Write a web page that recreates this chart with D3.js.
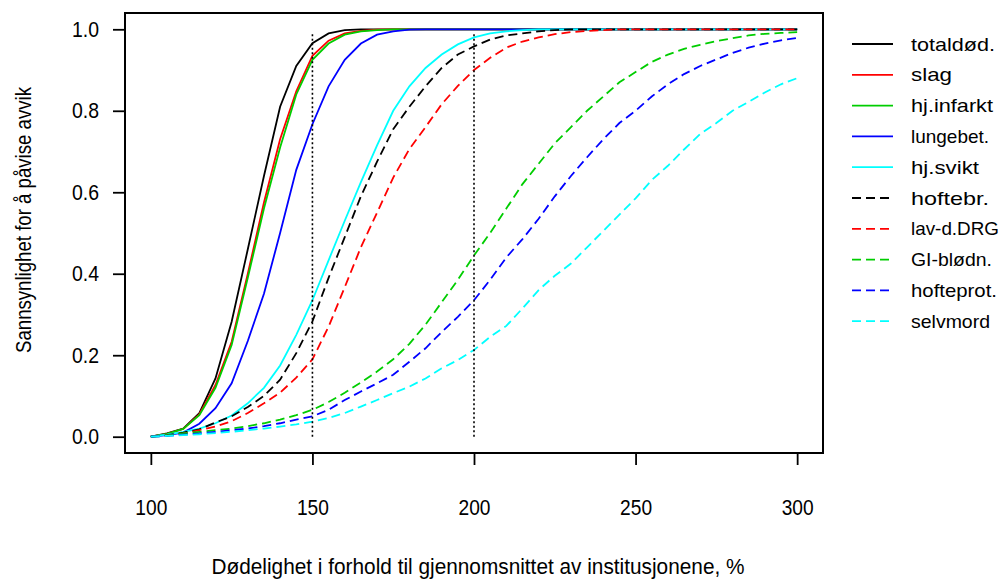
<!DOCTYPE html>
<html>
<head>
<meta charset="utf-8">
<script src="https://cdn.jsdelivr.net/npm/d3@7"></script>
<style>
  body { margin: 0; background: #fff; }
  svg text { font-family: "Liberation Sans", Arial, sans-serif; fill: #000; }
</style>
</head>
<body>
<script>
// relative mortality, % of the institutions' average
const mortality = [100, 105, 110, 115, 120, 125, 130, 135, 140, 145, 150, 155, 160, 165, 170, 175, 180,
  185, 190, 195, 200, 205, 210, 215, 220, 225, 230, 235, 240, 245, 250, 255, 260, 265, 270, 275, 280,
  285, 290, 295, 300];

const totaldod = [0, .008, .02, .058, .143, .282, .46, .64, .81, .91, .966, .99, .998, 1, 1, 1, 1,
  1, 1, 1, 1, 1, 1, 1, 1, 1, 1, 1, 1, 1, 1, 1, 1, 1, 1, 1, 1, 1, 1, 1, 1];
const slag = [0, .007, .019, .055, .127, .233, .40, .575, .73, .848, .935, .972, .99, .996, .999, 1, 1,
  1, 1, 1, 1, 1, 1, 1, 1, 1, 1, 1, 1, 1, 1, 1, 1, 1, 1, 1, 1, 1, 1, 1, 1];
const hjInfarkt = [0, .007, .019, .053, .12, .225, .39, .56, .71, .84, .925, .965, .987, .995, .998, 1, 1,
  1, 1, 1, 1, 1, 1, 1, 1, 1, 1, 1, 1, 1, 1, 1, 1, 1, 1, 1, 1, 1, 1, 1, 1];
const lungebet = [0, .004, .01, .032, .07, .131, .235, .351, .50, .655, .767, .86, .925, .965, .987, .995, .999,
  1, 1, 1, 1, 1, 1, 1, 1, 1, 1, 1, 1, 1, 1, 1, 1, 1, 1, 1, 1, 1, 1, 1, 1];
const hjSvikt = [0, .005, .012, .02, .033, .052, .082, .12, .175, .25, .335, .433, .53, .625, .715, .80, .86,
  .905, .938, .963, .98, .99, .995, .998, 1, 1, 1, 1, 1, 1, 1, 1, 1, 1, 1, 1, 1, 1, 1, 1, 1];
const hoftebr = [0, .004, .01, .018, .035, .05, .073, .10, .14, .205, .283, .39, .49, .59, .675, .755, .81,
  .86, .905, .938, .958, .975, .985, .99, .995, .998, 1, 1, 1, 1, 1, 1, 1, 1, 1, 1, 1, 1, 1, 1, 1];
const lavdDrg = [0, .003, .008, .016, .025, .038, .058, .082, .108, .145, .19, .27, .367, .465, .55, .636, .706,
  .76, .816, .861, .90, .93, .955, .97, .98, .988, .993, .996, .998, 1, 1, 1, 1, 1, 1, 1, 1, 1, 1, 1, 1];
const giBlodn = [0, .003, .008, .012, .016, .02, .026, .033, .042, .053, .066, .085, .108, .133, .16, .19, .228,
  .275, .33, .385, .445, .50, .56, .62, .67, .72, .76, .80, .835, .87, .895, .92, .938, .952, .962, .971, .978,
  .985, .989, .991, .993];
const hofteprot = [0, .002, .005, .008, .012, .016, .02, .026, .033, .042, .05, .066, .09, .111, .131, .152, .184,
  .217, .257, .294, .335, .385, .44, .485, .535, .59, .64, .686, .73, .77, .80, .835, .865, .89, .91, .926, .942,
  .955, .965, .973, .979];
const selvmord = [0, .002, .004, .006, .009, .012, .016, .02, .025, .03, .037, .046, .058, .074, .09, .107, .123,
  .143, .168, .188, .213, .245, .272, .315, .36, .395, .425, .465, .505, .545, .585, .63, .665, .705, .743, .77, .80,
  .822, .845, .865, .88];

const seriesNames = ["totaldød.", "slag", "hj.infarkt", "lungebet.", "hj.svikt",
  "hoftebr.", "lav-d.DRG", "GI-blødn.", "hofteprot.", "selvmord"];
const seriesValues = [totaldod, slag, hjInfarkt, lungebet, hjSvikt,
  hoftebr, lavdDrg, giBlodn, hofteprot, selvmord];

const xTicks = [100, 150, 200, 250, 300];
const yTicks = [0, 0.2, 0.4, 0.6, 0.8, 1.0];
const refLines = [150, 200];

// styles (old R palette)
const colors = ["#000000", "#ff0000", "#00cd00", "#0000ff", "#00ffff"];
const labelWidths = [84, 41, 82, 78, 68, 78, 88, 81, 86, 79];

const width = 1007, height = 579;
const box = {left: 125, right: 823, top: 13, bottom: 453};
const fontSize = "22px";

const svg = d3.select("body").append("svg")
  .attr("width", width)
  .attr("height", height);

const xScale = d3.scaleLinear().domain([92, 308]).range([box.left, box.right]);
const yScale = d3.scaleLinear().domain([-0.04, 1.04]).range([box.bottom, box.top]);

const series = seriesNames.map((name, i) => ({
  name: name,
  values: seriesValues[i],
  color: colors[i % 5],
  dashed: i >= 5
}));

const line = d3.line()
  .x((d, i) => xScale(mortality[i]))
  .y(d => yScale(d));

svg.append("g")
  .selectAll("path")
  .data(series)
  .enter()
  .append("path")
  .attr("d", d => line(d.values))
  .attr("fill", "none")
  .attr("stroke", d => d.color)
  .attr("stroke-width", 1.8)
  .attr("stroke-dasharray", d => d.dashed ? "9,5" : null);

svg.selectAll(".ref")
  .data(refLines)
  .enter()
  .append("line")
  .attr("class", "ref")
  .attr("x1", d => xScale(d))
  .attr("x2", d => xScale(d))
  .attr("y1", yScale(0))
  .attr("y2", yScale(0.99))
  .attr("stroke", "#000")
  .attr("stroke-width", 1.6)
  .attr("stroke-dasharray", "2,2.5");

svg.append("rect")
  .attr("x", box.left)
  .attr("y", box.top)
  .attr("width", box.right - box.left)
  .attr("height", box.bottom - box.top)
  .attr("fill", "none")
  .attr("stroke", "#000")
  .attr("stroke-width", 2);

const xAxis = d3.axisBottom(xScale)
  .tickValues(xTicks)
  .tickSize(12)
  .tickPadding(34)
  .tickFormat(d3.format("d"));

const yAxis = d3.axisLeft(yScale)
  .tickValues(yTicks)
  .tickSize(12)
  .tickPadding(14)
  .tickFormat(d3.format(".1f"));

const gx = svg.append("g")
  .attr("transform", "translate(0," + box.bottom + ")")
  .call(xAxis);
const gy = svg.append("g")
  .attr("transform", "translate(" + box.left + ",0)")
  .call(yAxis);

[gx, gy].forEach(g => {
  g.select(".domain").remove();
  g.selectAll(".tick line").attr("stroke", "#000").attr("stroke-width", 1.8);
  g.selectAll(".tick text")
    .attr("fill", "#000")
    .attr("lengthAdjust", "spacingAndGlyphs")
    .style("font-size", fontSize)
    .style("font-family", "'Liberation Sans', Arial, sans-serif");
});
gx.selectAll(".tick text").attr("textLength", 32);
gy.selectAll(".tick text").attr("textLength", 27);

svg.append("text")
  .attr("x", 478)
  .attr("y", 574)
  .attr("text-anchor", "middle")
  .attr("textLength", 533)
  .attr("lengthAdjust", "spacingAndGlyphs")
  .style("font-size", fontSize)
  .text("Dødelighet i forhold til gjennomsnittet av institusjonene, %");

svg.append("text")
  .attr("transform", "translate(31,220) rotate(-90)")
  .attr("text-anchor", "middle")
  .attr("textLength", 266)
  .attr("lengthAdjust", "spacingAndGlyphs")
  .style("font-size", fontSize)
  .text("Sannsynlighet for å påvise avvik");

// legend
const legend = svg.append("g")
  .selectAll("g")
  .data(series)
  .enter()
  .append("g")
  .attr("transform", (d, i) => "translate(852," + (44 + i * 30.8) + ")");

legend.append("line")
  .attr("x1", 0)
  .attr("x2", 41)
  .attr("stroke", d => d.color)
  .attr("stroke-width", 1.8)
  .attr("stroke-dasharray", d => d.dashed ? "9,5" : null);

legend.append("text")
  .attr("x", 59)
  .attr("dy", "0.35em")
  .attr("textLength", (d, i) => labelWidths[i])
  .attr("lengthAdjust", "spacingAndGlyphs")
  .style("font-size", "19px")
  .text(d => d.name);
</script>
</body>
</html>
